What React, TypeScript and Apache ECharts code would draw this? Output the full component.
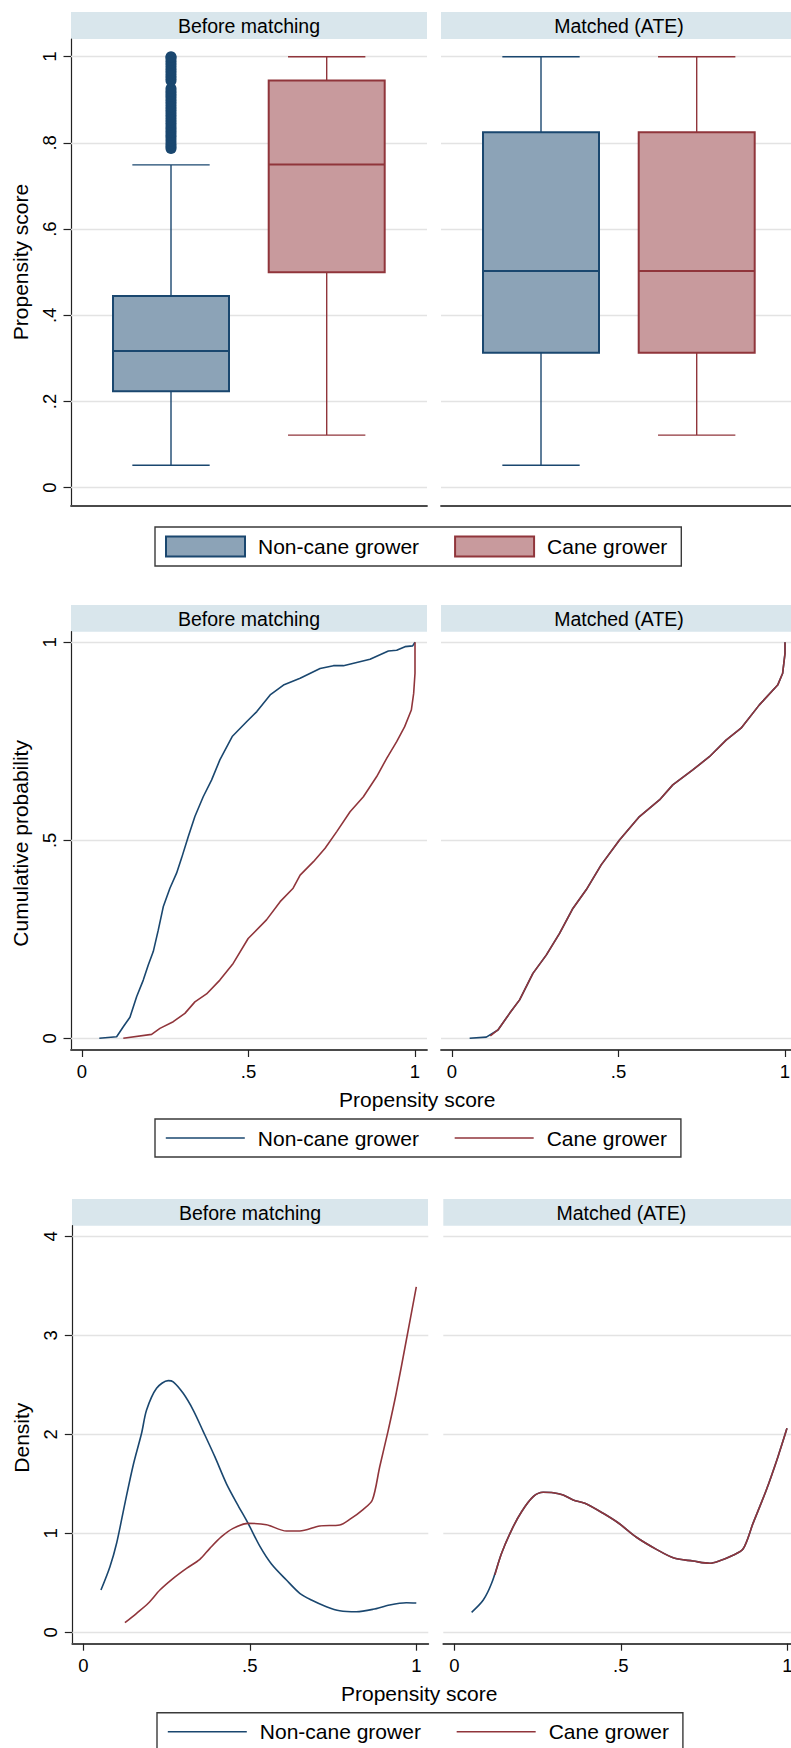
import React, { useEffect, useRef } from 'react';
import * as echarts from 'echarts';

// ---------- styling constants ----------
const FONT = "'Liberation Sans', Arial, Helvetica, sans-serif";
const NAVY = '#1a476f';
const MAROON = '#90353b';
const NAVY_FILL = '#8ca3b7';
const MAROON_FILL = '#c89a9d';
const STRIP = '#d9e6ec';
const GRID_LINE = '#e3e3e3';
const AXIS_Y = '#222222';
const AXIS_X = '#4a4a4a';

// ---------- texts ----------
const PANEL_TITLES = ['Before matching', 'Matched (ATE)'];
const LEGEND_LABELS: Record<string, string> = {
  nc_box: 'Non-cane grower',
  c_box: 'Cane grower',
  nc_cdf: 'Non-cane grower',
  c_cdf: 'Cane grower',
  nc_kde: 'Non-cane grower',
  c_kde: 'Cane grower',
};
const Y_TITLES = ['Propensity score', 'Cumulative probability', 'Density'];
const X_TITLE = 'Propensity score';

// ---------- tick values ----------
const boxTicks = [0, 0.2, 0.4, 0.6, 0.8, 1];
const cdfTicks = [0, 0.5, 1];
const kdeTicks = [0, 1, 2, 3, 4];
const scoreTicks = [0, 0.5, 1];

// ---------- box plot statistics: [position, lower whisker, Q1, median, Q3, upper whisker] ----------
const boxBeforeNonCane = [1, 0.052, 0.224, 0.317, 0.445, 0.749];
const boxBeforeCane = [2, 0.122, 0.5, 0.75, 0.945, 1.0];
const boxMatchedNonCane = [1, 0.052, 0.313, 0.503, 0.825, 1.0];
const boxMatchedCane = [2, 0.122, 0.313, 0.503, 0.825, 1.0];

// outliers of non-cane growers before matching
const outliersBeforeNonCane = [
  0.787, 0.792, 0.798, 0.805, 0.812, 0.818, 0.824, 0.83, 0.836, 0.842, 0.848, 0.854,
  0.86, 0.866, 0.872, 0.878, 0.884, 0.89, 0.896, 0.902, 0.908, 0.914, 0.92, 0.926,
  0.944, 0.95, 0.956, 0.962, 0.968, 0.974, 0.98, 0.986, 0.992, 0.998, 1.0,
];

// ---------- cumulative distributions [score, cumulative probability] ----------
const cdfBeforeNonCane = [
  [0.052, 0], [0.104, 0.004], [0.124, 0.029], [0.144, 0.053], [0.164, 0.105], [0.184, 0.147],
  [0.199, 0.185], [0.214, 0.219], [0.229, 0.273], [0.244, 0.332], [0.264, 0.379], [0.284, 0.417],
  [0.299, 0.455], [0.319, 0.509], [0.339, 0.56], [0.364, 0.61], [0.389, 0.652], [0.414, 0.703],
  [0.451, 0.762], [0.495, 0.8], [0.525, 0.825], [0.565, 0.867], [0.605, 0.892], [0.655, 0.909],
  [0.715, 0.934], [0.755, 0.941], [0.785, 0.941], [0.865, 0.957], [0.92, 0.978], [0.945, 0.98],
  [0.97, 0.989], [0.993, 0.991], [1.0, 1.0],
];
const cdfBeforeCane = [
  [0.124, 0], [0.209, 0.01], [0.234, 0.025], [0.274, 0.042], [0.309, 0.063], [0.339, 0.092],
  [0.374, 0.112], [0.414, 0.147], [0.454, 0.189], [0.499, 0.252], [0.554, 0.299], [0.595, 0.345],
  [0.634, 0.379], [0.655, 0.412], [0.695, 0.446], [0.73, 0.48], [0.765, 0.522], [0.805, 0.572],
  [0.845, 0.61], [0.885, 0.661], [0.915, 0.707], [0.945, 0.749], [0.969, 0.787], [0.989, 0.829],
  [0.996, 0.871], [1.0, 0.922], [1.0, 1.0],
];
const cdfMatchedNonCane = [
  [0.053, 0], [0.103, 0.003], [0.138, 0.021], [0.173, 0.063], [0.203, 0.097], [0.243, 0.164],
  [0.283, 0.21], [0.323, 0.265], [0.363, 0.328], [0.403, 0.375], [0.448, 0.438], [0.503, 0.501],
  [0.563, 0.56], [0.623, 0.602], [0.663, 0.64], [0.723, 0.678], [0.773, 0.711], [0.823, 0.753],
  [0.868, 0.783], [0.923, 0.842], [0.978, 0.892], [0.993, 0.922], [1.0, 0.972], [1.0, 1.0],
];
const cdfMatchedCane = [
  [0.115, 0.006], [0.138, 0.021], [0.173, 0.063], [0.203, 0.097], [0.243, 0.164],
  [0.283, 0.21], [0.323, 0.265], [0.363, 0.328], [0.403, 0.375], [0.448, 0.438], [0.503, 0.501],
  [0.563, 0.56], [0.623, 0.602], [0.663, 0.64], [0.723, 0.678], [0.773, 0.711], [0.823, 0.753],
  [0.868, 0.783], [0.923, 0.842], [0.978, 0.892], [0.993, 0.922], [1.0, 0.972], [1.0, 1.0],
];

// ---------- kernel densities [score, density] ----------
const kdeBeforeNonCane = [
  [0.053, 0.427], [0.08, 0.663], [0.1, 0.899], [0.125, 1.303], [0.15, 1.69], [0.175, 2.01],
  [0.19, 2.245], [0.22, 2.465], [0.255, 2.542], [0.27, 2.53], [0.3, 2.414], [0.33, 2.245],
  [0.36, 2.03], [0.395, 1.774], [0.43, 1.5], [0.465, 1.28], [0.495, 1.1], [0.53, 0.87],
  [0.565, 0.69], [0.61, 0.528], [0.65, 0.394], [0.685, 0.326], [0.73, 0.259], [0.77, 0.218],
  [0.82, 0.208], [0.87, 0.232], [0.92, 0.276], [0.97, 0.299], [1.0, 0.296],
];
const kdeBeforeCane = [
  [0.125, 0.097], [0.16, 0.192], [0.195, 0.293], [0.23, 0.427], [0.27, 0.545], [0.31, 0.646],
  [0.35, 0.737], [0.38, 0.848], [0.415, 0.966], [0.45, 1.05], [0.495, 1.1], [0.55, 1.087],
  [0.61, 1.023], [0.65, 1.023], [0.71, 1.074], [0.77, 1.084], [0.8, 1.14], [0.84, 1.24],
  [0.868, 1.336], [0.89, 1.67], [0.915, 2.03], [0.94, 2.42], [0.97, 2.95], [1.0, 3.49],
];
const kdeMatchedNonCane = [
  [0.052, 0.202], [0.087, 0.326], [0.112, 0.495], [0.142, 0.798], [0.172, 1.033], [0.202, 1.218],
  [0.237, 1.37], [0.267, 1.414], [0.297, 1.41], [0.327, 1.387], [0.357, 1.336], [0.392, 1.303],
  [0.447, 1.202], [0.497, 1.094], [0.547, 0.96], [0.607, 0.838], [0.662, 0.747], [0.717, 0.72],
  [0.767, 0.697], [0.797, 0.723], [0.832, 0.771], [0.867, 0.841], [0.897, 1.1], [0.937, 1.437],
  [0.972, 1.774], [0.999, 2.06],
];
const kdeMatchedCane = [
  [0.122, 0.58], [0.142, 0.798], [0.172, 1.033], [0.202, 1.218],
  [0.237, 1.37], [0.267, 1.414], [0.297, 1.41], [0.327, 1.387], [0.357, 1.336], [0.392, 1.303],
  [0.447, 1.202], [0.497, 1.094], [0.547, 0.96], [0.607, 0.838], [0.662, 0.747], [0.717, 0.72],
  [0.767, 0.697], [0.797, 0.723], [0.832, 0.771], [0.867, 0.841], [0.897, 1.1], [0.937, 1.437],
  [0.972, 1.774], [0.999, 2.06],
];

// ---------- helpers ----------
const fmtTick = (v: number) => {
  if (v === 0) return '0';
  const s = String(v);
  return s.startsWith('0.') ? s.slice(1) : s;
};

const BOX_WIDTH = 0.745; // in x-axis units

const gridLines = (ticks: number[]) => ({
  silent: true,
  symbol: ['none', 'none'],
  z: 1,
  animation: false,
  label: { show: false },
  emphasis: { disabled: true },
  lineStyle: { color: GRID_LINE, width: 1.4, type: 'solid' },
  data: ticks.map((t) => ({ yAxis: t })),
});

const boxSeries = (name: string, row: number[], axisIndex: number, stroke: string, fill: string, withGrid: boolean) => ({
  type: 'custom',
  name,
  coordinateSystem: 'cartesian2d',
  xAxisIndex: axisIndex,
  yAxisIndex: axisIndex,
  data: [row],
  encode: { x: 0, y: [1, 2, 3, 4, 5] },
  z: 2,
  silent: true,
  itemStyle: { color: fill, borderColor: stroke },
  renderItem: (params: any, api: any) => {
    const x = api.value(0);
    const lo = api.coord([x, api.value(1)]);
    const q1 = api.coord([x, api.value(2)]);
    const md = api.coord([x, api.value(3)]);
    const q3 = api.coord([x, api.value(4)]);
    const hi = api.coord([x, api.value(5)]);
    const bw = api.size([BOX_WIDTH, 0])[0];
    const half = bw / 2;
    const cap = bw / 3;
    const thin = { stroke, lineWidth: 1.4 };
    return {
      type: 'group',
      children: [
        { type: 'line', shape: { x1: lo[0], y1: lo[1], x2: q1[0], y2: q1[1] }, style: thin },
        { type: 'line', shape: { x1: q3[0], y1: q3[1], x2: hi[0], y2: hi[1] }, style: thin },
        { type: 'line', shape: { x1: lo[0] - cap, y1: lo[1], x2: lo[0] + cap, y2: lo[1] }, style: thin },
        { type: 'line', shape: { x1: hi[0] - cap, y1: hi[1], x2: hi[0] + cap, y2: hi[1] }, style: thin },
        {
          type: 'rect',
          shape: { x: q1[0] - half, y: q3[1], width: bw, height: q1[1] - q3[1] },
          style: { fill, stroke, lineWidth: 2 },
        },
        { type: 'line', shape: { x1: md[0] - half, y1: md[1], x2: md[0] + half, y2: md[1] }, style: { stroke, lineWidth: 2 } },
      ],
    };
  },
  markLine: withGrid ? gridLines(boxTicks) : undefined,
});

const lineSeries = (name: string, data: number[][], axisIndex: number, color: string, smooth: number, ticks: number[] | null) => ({
  type: 'line',
  name,
  xAxisIndex: axisIndex,
  yAxisIndex: axisIndex,
  data,
  symbol: 'none',
  smooth,
  z: 2,
  silent: true,
  lineStyle: { color, width: 1.6 },
  itemStyle: { color },
  markLine: ticks ? gridLines(ticks) : undefined,
});

// axis ranges (extended so the plot region frames the data as in the reference)
const BOX_X = [0.3577, 2.6442];
const BOX_Y = [-0.04246, 1.04107];
const SCORE_X = [-0.03303, 1.03604];
const CDF_Y = [-0.02955, 1.02677];
const KDE_Y = [-0.1152, 4.1071];

const yAxisLeft = (gridIndex: number, range: number[], ticks: number[], name: string, namePadding: number[]) => ({
  gridIndex,
  type: 'value',
  min: range[0],
  max: range[1],
  axisLine: { show: true, onZero: false, lineStyle: { color: AXIS_Y, width: 1.2 } },
  axisTick: { show: true, customValues: ticks, length: 7.5, lineStyle: { color: AXIS_Y, width: 1.2 } },
  axisLabel: {
    show: true,
    customValues: ticks,
    rotate: 90,
    margin: 12,
    fontSize: 18.5,
    color: '#000',
    fontFamily: FONT,
    formatter: fmtTick,
  },
  splitLine: { show: false },
  name,
  nameLocation: 'middle',
  nameGap: 40,
  nameTextStyle: { fontSize: 21, color: '#000', fontFamily: FONT, padding: namePadding },
});

const yAxisRight = (gridIndex: number, range: number[]) => ({
  gridIndex,
  type: 'value',
  min: range[0],
  max: range[1],
  axisLine: { show: false, onZero: false },
  axisTick: { show: false },
  axisLabel: { show: false },
  splitLine: { show: false },
});

const xAxisPlain = (gridIndex: number, range: number[]) => ({
  gridIndex,
  type: 'value',
  min: range[0],
  max: range[1],
  axisLine: { show: true, onZero: false, lineStyle: { color: AXIS_X, width: 1.8 } },
  axisTick: { show: false },
  axisLabel: { show: false },
  splitLine: { show: false },
});

const xAxisScore = (gridIndex: number) => ({
  gridIndex,
  type: 'value',
  min: SCORE_X[0],
  max: SCORE_X[1],
  axisLine: { show: true, onZero: false, lineStyle: { color: AXIS_X, width: 1.8 } },
  axisTick: { show: true, customValues: scoreTicks, length: 7, lineStyle: { color: AXIS_Y, width: 1.2 } },
  axisLabel: {
    show: true,
    customValues: scoreTicks,
    margin: 12,
    fontSize: 18.5,
    color: '#000',
    fontFamily: FONT,
    formatter: fmtTick,
  },
  splitLine: { show: false },
});

const strip = (x: number, y: number, w: number, h: number, text: string) => [
  { type: 'rect', shape: { x, y, width: w, height: h }, style: { fill: STRIP }, silent: true },
  {
    type: 'text',
    x: x + w / 2,
    y: y + h / 2 + 0.5,
    silent: true,
    style: { text, fontSize: 19.5, fontFamily: FONT, fill: '#000', align: 'center', verticalAlign: 'middle' },
  },
];

const legendCommon = {
  orient: 'horizontal',
  selectedMode: false,
  itemWidth: 79,
  itemHeight: 20,
  itemGap: 35,
  padding: [8.5, 14, 8.5, 10],
  borderColor: '#3a3a3a',
  borderWidth: 1.4,
  borderRadius: 0,
  backgroundColor: '#ffffff',
  textStyle: { fontSize: 21, color: '#000', fontFamily: FONT, padding: [0, 0, 0, 8] },
  formatter: (n: string) => LEGEND_LABELS[n],
};

export default function App() {
  const ref = useRef<HTMLDivElement>(null);

  useEffect(() => {
    document.body.style.margin = '0';
    document.body.style.overflow = 'hidden';
    const chart = echarts.init(ref.current as HTMLDivElement, null, { renderer: 'svg', width: 791, height: 1748 });

    const grids = [
      { left: 71, top: 39, width: 356, height: 467 },
      { left: 441, top: 39, width: 356, height: 467 },
      { left: 71, top: 631.7, width: 356, height: 418.3 },
      { left: 441, top: 631.7, width: 356, height: 418.3 },
      { left: 72.3, top: 1225.7, width: 356, height: 418 },
      { left: 443.3, top: 1225.7, width: 356, height: 418 },
    ].map((g) => ({ ...g, containLabel: false, outerBoundsMode: 'none', show: false }));

    const option: any = {
      animation: false,
      backgroundColor: '#ffffff',
      textStyle: { fontFamily: FONT },
      grid: grids,
      xAxis: [
        xAxisPlain(0, BOX_X),
        xAxisPlain(1, BOX_X),
        xAxisScore(2),
        xAxisScore(3),
        xAxisScore(4),
        xAxisScore(5),
      ],
      yAxis: [
        yAxisLeft(0, BOX_Y, boxTicks, Y_TITLES[0], [0, 0, 0, 21]),
        yAxisRight(1, BOX_Y),
        yAxisLeft(2, CDF_Y, cdfTicks, Y_TITLES[1], [0, 5, 0, 0]),
        yAxisRight(3, CDF_Y),
        yAxisLeft(4, KDE_Y, kdeTicks, Y_TITLES[2], [0, 6, 0, 0]),
        yAxisRight(5, KDE_Y),
      ],
      legend: [
        {
          ...legendCommon,
          left: 155,
          top: 527,
          data: [
            { name: 'nc_box', icon: 'rect', itemStyle: { color: NAVY_FILL, borderColor: NAVY, borderWidth: 2 } },
            { name: 'c_box', icon: 'rect', itemStyle: { color: MAROON_FILL, borderColor: MAROON, borderWidth: 2 } },
          ],
        },
        {
          ...legendCommon,
          left: 155,
          top: 1119,
          data: [
            { name: 'nc_cdf', itemStyle: { opacity: 0 }, lineStyle: { color: NAVY, width: 1.6 } },
            { name: 'c_cdf', itemStyle: { opacity: 0 }, lineStyle: { color: MAROON, width: 1.6 } },
          ],
        },
        {
          ...legendCommon,
          left: 157,
          top: 1712.7,
          data: [
            { name: 'nc_kde', itemStyle: { opacity: 0 }, lineStyle: { color: NAVY, width: 1.6 } },
            { name: 'c_kde', itemStyle: { opacity: 0 }, lineStyle: { color: MAROON, width: 1.6 } },
          ],
        },
      ],
      series: [
        boxSeries('nc_box', boxBeforeNonCane, 0, NAVY, NAVY_FILL, false),
        boxSeries('c_box', boxBeforeCane, 0, MAROON, MAROON_FILL, false),
        {
          type: 'scatter',
          name: 'outliers',
          xAxisIndex: 0,
          yAxisIndex: 0,
          data: outliersBeforeNonCane.map((v) => [boxBeforeNonCane[0], v]),
          symbol: 'circle',
          symbolSize: 11,
          z: 3,
          silent: true,
          itemStyle: { color: NAVY, opacity: 1 },
          markLine: gridLines(boxTicks),
        },
        boxSeries('nc_box', boxMatchedNonCane, 1, NAVY, NAVY_FILL, true),
        boxSeries('c_box', boxMatchedCane, 1, MAROON, MAROON_FILL, false),

        lineSeries('nc_cdf', cdfBeforeNonCane, 2, NAVY, 0, cdfTicks),
        lineSeries('c_cdf', cdfBeforeCane, 2, MAROON, 0, null),
        lineSeries('nc_cdf', cdfMatchedNonCane, 3, NAVY, 0, cdfTicks),
        lineSeries('c_cdf', cdfMatchedCane, 3, MAROON, 0, null),

        lineSeries('nc_kde', kdeBeforeNonCane, 4, NAVY, 0.3, kdeTicks),
        lineSeries('c_kde', kdeBeforeCane, 4, MAROON, 0.3, null),
        lineSeries('nc_kde', kdeMatchedNonCane, 5, NAVY, 0.3, kdeTicks),
        lineSeries('c_kde', kdeMatchedCane, 5, MAROON, 0.3, null),
      ],
      graphic: {
        elements: [
          ...strip(71, 12, 356, 27, PANEL_TITLES[0]),
          ...strip(441, 12, 356, 27, PANEL_TITLES[1]),
          ...strip(71, 605, 356, 26.7, PANEL_TITLES[0]),
          ...strip(441, 605, 356, 26.7, PANEL_TITLES[1]),
          ...strip(72, 1199, 356, 26.7, PANEL_TITLES[0]),
          ...strip(443.3, 1199, 356, 26.7, PANEL_TITLES[1]),
          {
            type: 'text',
            x: 417.3,
            y: 1099.3,
            silent: true,
            style: { text: X_TITLE, fontSize: 21, fontFamily: FONT, fill: '#000', align: 'center', verticalAlign: 'middle' },
          },
          {
            type: 'text',
            x: 419.2,
            y: 1693.3,
            silent: true,
            style: { text: X_TITLE, fontSize: 21, fontFamily: FONT, fill: '#000', align: 'center', verticalAlign: 'middle' },
          },
        ],
      },
    };

    chart.setOption(option);
    return () => {
      chart.dispose();
    };
  }, []);

  return (
    <div
      ref={ref}
      style={{ position: 'absolute', left: 0, top: 0, width: 791, height: 1748, background: '#fff' }}
    />
  );
}
